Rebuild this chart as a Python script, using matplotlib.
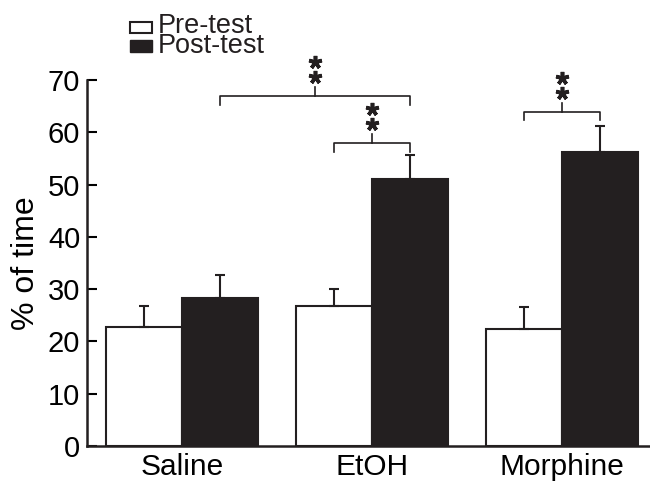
import matplotlib
matplotlib.use("Agg")
import matplotlib.pyplot as plt
from matplotlib.patches import Rectangle
import numpy as np

plt.rcParams['font.family'] = ['Liberation Sans', 'DejaVu Sans']

categories = ["Saline", "EtOH", "Morphine"]
series_names = ["Pre-test", "Post-test"]
pre_test = [22.8, 26.8, 22.4]
pre_err = [4.0, 3.2, 4.2]
post_test = [28.3, 51.0, 56.2]
post_err = [4.4, 4.6, 5.0]
yticks = [0, 10, 20, 30, 40, 50, 60, 70]

# significance brackets: (x_left, x_right, y level)
brackets = [(0.2, 1.2, 66.9), (0.8, 1.2, 57.9), (1.8, 2.2, 63.9)]

dark = '#231f20'
fig = plt.figure(figsize=(6.5, 4.83), dpi=100)
ax = fig.add_axes([0.134, 0.0766, 0.866, 0.834 - 0.0766])

x = np.arange(len(categories))
w = 0.4
ekw = dict(ecolor=dark, elinewidth=1.5, capsize=3.5, capthick=1.5)
ax.bar(x - w / 2, pre_test, w, color='white', edgecolor=dark, linewidth=1.5,
       yerr=[np.zeros(3), pre_err], error_kw=ekw, zorder=2)
ax.bar(x + w / 2, post_test, w, color=dark, edgecolor=dark, linewidth=1.5,
       yerr=[np.zeros(3), post_err], error_kw=ekw, zorder=2)

for xl, xr, yb in brackets:
    ax.plot([xl, xl, xr, xr], [yb - 1.6, yb, yb, yb - 1.6], color=dark, lw=1.2, clip_on=False)
    xm = (xl + xr) / 2
    ax.plot([xm, xm], [yb, yb + 1.8], color=dark, lw=1.2, clip_on=False)
    ax.plot([xm, xm], [yb + 3.7, yb + 6.5], linestyle='none', marker=(5, 2, 0), markersize=9.5,
            markeredgewidth=2.6, color=dark, clip_on=False)

ax.set_xlim(-0.5, 2.463)
ax.set_ylim(0, 70)
ax.set_yticks(yticks)
ax.set_xticks(x)
ax.set_xticklabels(categories, fontsize=21.5)
ax.tick_params(axis='x', length=0, pad=5)
ax.tick_params(axis='y', direction='in', length=7, width=1.5, labelsize=21, pad=5)
for s in ['top', 'right']:
    ax.spines[s].set_visible(False)
for s in ['left', 'bottom']:
    ax.spines[s].set_linewidth(1.8)
    ax.spines[s].set_color(dark)
ax.set_ylabel('% of time', fontsize=23, labelpad=5)

# legend (drawn by hand to reproduce the very tight line spacing)
W, H = 650.0, 483.0
fig.patches.append(Rectangle((130 / W, 1 - 33 / H), 22 / W, 11 / H, transform=fig.transFigure,
                             facecolor='white', edgecolor=dark, linewidth=1.5))
fig.patches.append(Rectangle((130 / W, 1 - 52 / H), 22 / W, 12 / H, transform=fig.transFigure,
                             facecolor=dark, edgecolor=dark, linewidth=1.0))
fig.text(158 / W, 1 - 13 / H, "\n".join(series_names), fontsize=19.5, va='top', ha='left',
         linespacing=0.72, color=dark)

fig.savefig('out.png', dpi=100)
